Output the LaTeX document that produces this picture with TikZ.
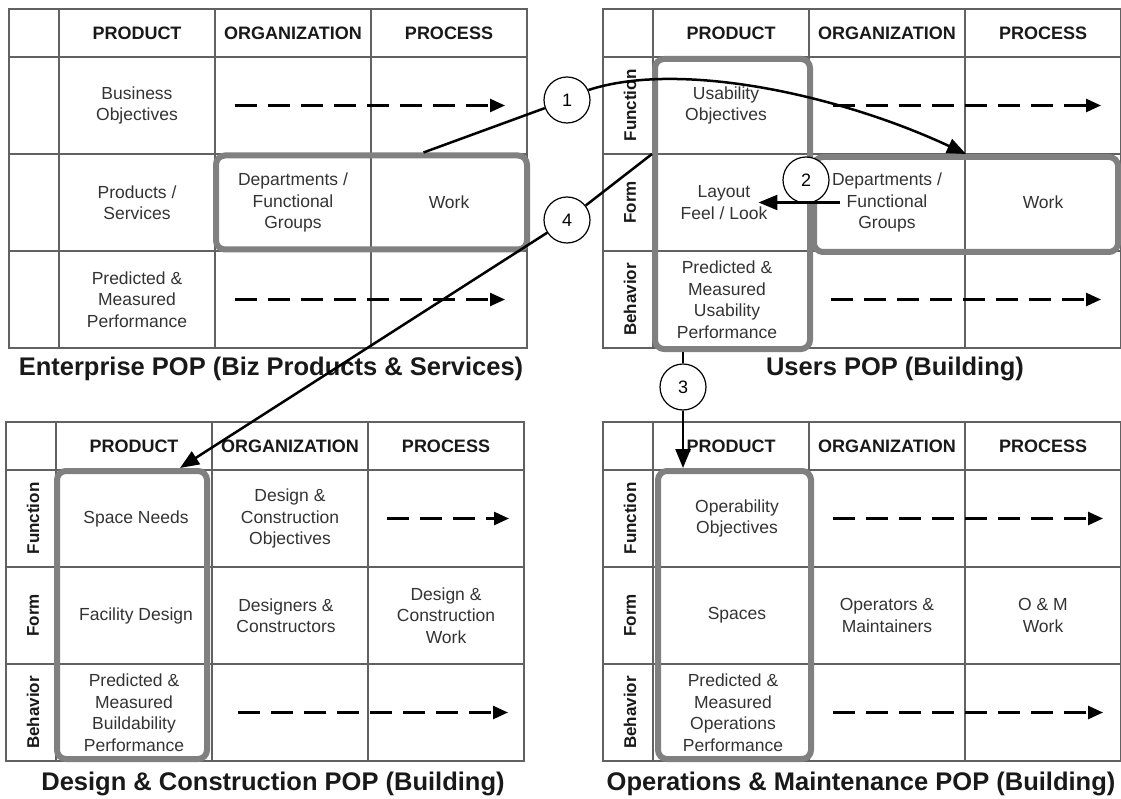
\documentclass[tikz,border=0pt]{standalone}
\usepackage{fontspec}
\setmainfont{Liberation Sans}
\usetikzlibrary{arrows.meta}

\tikzstyle{gridline}=[draw=black!62,
                      line width=1.3pt]
\tikzstyle{coltitle}=[font=\bfseries\fontsize{18}{21}\selectfont,
                      text=black!90]
\tikzstyle{rowtitle}=[font=\bfseries\fontsize{17}{20}\selectfont,
                      rotate=90,
                      text=black!90]
\tikzstyle{celltext}=[font=\fontsize{17.5}{21.5}\selectfont,
                      text=black!80,
                      align=center,
                      inner sep=1pt]
\tikzstyle{hilite}=[draw=black!50,
                    line width=6pt,
                    rounded corners=9pt,
                    inner sep=0pt]
\tikzstyle{numcircle}=[circle,
                       draw,
                       fill=white,
                       line width=1.2pt,
                       minimum size=46pt,
                       inner sep=0pt,
                       font=\fontsize{18}{20}\selectfont]
\tikzstyle{link}=[line width=2.5pt]
\tikzstyle{linkarrow}=[line width=2.5pt,
                       -{Triangle[length=19pt,width=15pt]}]
\tikzstyle{flowarrow}=[line width=2.5pt,
                       dash pattern=on 22pt off 11pt,
                       -{Triangle[length=15pt,width=13pt]}]
\tikzstyle{poptitle}=[font=\bfseries\fontsize{25.5}{30}\selectfont,
                      text=black!90,
                      anchor=base]

\begin{document}
\begin{tikzpicture}[x=1pt,y=-1pt]
    \useasboundingbox (0,0) rectangle (1121,799);

    % the four POP tables
    \foreach \gx/\gy in {9/9, 603/9, 6/422, 603/422} {
        \draw[gridline] (\gx,\gy) rectangle ++(518,339);
        \foreach \cx in {50,206,362}
            \draw[gridline] (\gx+\cx,\gy) -- ++(0,339);
        \foreach \ry in {48,145,242}
            \draw[gridline] (\gx,\gy+\ry) -- ++(518,0);
    }

    % Enterprise POP
    \begin{scope}[shift={(9,9)}]
        \node [coltitle] (ent-prod) at (128,24) {PRODUCT};
        \node [coltitle] (ent-org) at (284,24) {ORGANIZATION};
        \node [coltitle] (ent-proc) at (440,24) {PROCESS};
        \node [celltext] (ent-obj) at (128,96.5) {Business\\Objectives};
        \node [celltext] (ent-serv) at (128,193.5) {Products /\\Services};
        \node [celltext] (ent-dept) at (284,193.5) {Departments /\\Functional\\Groups};
        \node [celltext] (ent-work) at (440,193.5) {Work};
        \node [celltext] (ent-perf) at (128,290.5) {Predicted \&\\Measured\\Performance};
        \coordinate (ent-f1) at (226,96.5);
        \coordinate (ent-t1) at (496,96.5);
        \coordinate (ent-f3) at (226,290.5);
        \coordinate (ent-t3) at (496,290.5);
        \draw [flowarrow] (ent-f1) -- (ent-t1);
        \draw [flowarrow] (ent-f3) -- (ent-t3);
        \node [hilite, minimum width=311pt, minimum height=94pt] (ent-box) at (362.5,193.5) {};
    \end{scope}

    % Users POP
    \begin{scope}[shift={(603,9)}]
        \node [coltitle] (usr-prod) at (128,24) {PRODUCT};
        \node [coltitle] (usr-org) at (284,24) {ORGANIZATION};
        \node [coltitle] (usr-proc) at (440,24) {PROCESS};
        \node [rowtitle] (usr-fn) at (27,96.5) {Function};
        \node [rowtitle] (usr-fm) at (27,193.5) {Form};
        \node [rowtitle] (usr-bh) at (27,290.5) {Behavior};
        \node [celltext] (usr-obj) at (123,96.5) {Usability\\Objectives};
        \node [celltext] (usr-lay) at (121,193.5) {Layout\\Feel / Look};
        \node [celltext] (usr-dept) at (284,193.5) {Departments /\\Functional\\Groups};
        \node [celltext] (usr-work) at (440,193.5) {Work};
        \node [celltext] (usr-perf) at (124,290.5) {Predicted \&\\Measured\\Usability\\Performance};
        \coordinate (usr-f1) at (230,96.5);
        \coordinate (usr-t1) at (498,96.5);
        \coordinate (usr-f3) at (228,290.5);
        \coordinate (usr-t3) at (498,290.5);
        \draw [flowarrow] (usr-f1) -- (usr-t1);
        \draw [flowarrow] (usr-f3) -- (usr-t3);
        \node [hilite, minimum width=155pt, minimum height=290pt] (usr-pbox) at (129.5,195) {};
        \node [hilite, minimum width=304pt, minimum height=95pt] (usr-obox) at (363,195.5) {};
    \end{scope}

    % Design & Construction POP
    \begin{scope}[shift={(6,422)}]
        \node [coltitle] (dc-prod) at (128,24) {PRODUCT};
        \node [coltitle] (dc-org) at (284,24) {ORGANIZATION};
        \node [coltitle] (dc-proc) at (440,24) {PROCESS};
        \node [rowtitle] (dc-fn) at (27,96.5) {Function};
        \node [rowtitle] (dc-fm) at (27,193.5) {Form};
        \node [rowtitle] (dc-bh) at (27,290.5) {Behavior};
        \node [celltext] (dc-need) at (130,96.5) {Space Needs};
        \node [celltext] (dc-obj) at (284,96.5) {Design \&\\Construction\\Objectives};
        \node [celltext] (dc-fac) at (130,193.5) {Facility Design};
        \node [celltext] (dc-team) at (280,193.5) {Designers \&\\Constructors};
        \node [celltext] (dc-work) at (440,193.5) {Design \&\\Construction\\Work};
        \node [celltext] (dc-perf) at (128,290.5) {Predicted \&\\Measured\\Buildability\\Performance};
        \coordinate (dc-f1) at (381,96.5);
        \coordinate (dc-t1) at (503,96.5);
        \coordinate (dc-f3) at (232,290.5);
        \coordinate (dc-t3) at (502,290.5);
        \draw [flowarrow] (dc-f1) -- (dc-t1);
        \draw [flowarrow] (dc-f3) -- (dc-t3);
        \node [hilite, minimum width=150pt, minimum height=288pt] (dc-box) at (126,193) {};
    \end{scope}

    % Operations & Maintenance POP
    \begin{scope}[shift={(603,422)}]
        \node [coltitle] (om-prod) at (128,24) {PRODUCT};
        \node [coltitle] (om-org) at (284,24) {ORGANIZATION};
        \node [coltitle] (om-proc) at (440,24) {PROCESS};
        \node [rowtitle] (om-fn) at (27,96.5) {Function};
        \node [rowtitle] (om-fm) at (27,193.5) {Form};
        \node [rowtitle] (om-bh) at (27,290.5) {Behavior};
        \node [celltext] (om-obj) at (134,96.5) {Operability\\Objectives};
        \node [celltext] (om-space) at (134,193.5) {Spaces};
        \node [celltext] (om-team) at (284,193.5) {Operators \&\\Maintainers};
        \node [celltext] (om-work) at (440,193.5) {O \& M\\Work};
        \node [celltext] (om-perf) at (130,290.5) {Predicted \&\\Measured\\Operations\\Performance};
        \coordinate (om-f1) at (230,96.5);
        \coordinate (om-t1) at (500,96.5);
        \coordinate (om-f3) at (230,290.5);
        \coordinate (om-t3) at (500,290.5);
        \draw [flowarrow] (om-f1) -- (om-t1);
        \draw [flowarrow] (om-f3) -- (om-t3);
        \node [hilite, minimum width=153pt, minimum height=288pt] (om-box) at (131.5,193) {};
    \end{scope}

    % table captions
    \node [poptitle] (ent-title) at (271,375) {Enterprise POP (Biz Products \& Services)};
    \node [poptitle] (usr-title) at (895,375) {Users POP (Building)};
    \node [poptitle] (dc-title) at (273,790) {Design \& Construction POP (Building)};
    \node [poptitle] (om-title) at (861,790) {Operations \& Maintenance POP (Building)};

    % numbered steps
    \node [numcircle] (circ1) at (567,100) {1};
    \node [numcircle] (circ2) at (806,180) {2};
    \node [numcircle] (circ3) at (683,387) {3};
    \node [numcircle] (circ4) at (567,220) {4};

    \draw [link] ([xshift=52pt]ent-box.north) -- (circ1);
    \draw [linkarrow] (circ1.25) .. controls (680,60) and (840,95) .. (usr-obox.north);
    \draw [linkarrow] ([xshift=9pt]usr-dept.west) -- ([xshift=-10pt]usr-lay.east);
    \draw [link] (usr-pbox.south -| circ3) -- (circ3);
    \draw [linkarrow] (circ3) -- (circ3 |- om-box.north);
    \draw [link] (usr-pbox.west |- usr-obox.north) -- (circ4);
    \draw [linkarrow] (circ4) -- ([xshift=48pt]dc-box.north);
\end{tikzpicture}
\end{document}
